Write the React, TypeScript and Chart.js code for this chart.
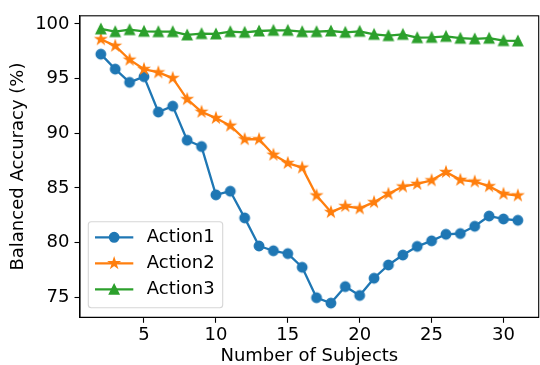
import React, { useEffect, useRef } from "react";
import { Chart, registerables } from "chart.js";

Chart.register(...registerables);

const subjects = [2, 3, 4, 5, 6, 7, 8, 9, 10, 11, 12, 13, 14, 15, 16, 17, 18, 19, 20, 21, 22, 23, 24, 25, 26, 27, 28, 29, 30, 31];
const action1 = [97.24, 95.87, 94.66, 95.18, 91.94, 92.48, 89.36, 88.78, 84.36, 84.69, 82.25, 79.68, 79.24, 78.98, 77.73, 74.94, 74.45, 75.96, 75.15, 76.73, 77.94, 78.85, 79.64, 80.15, 80.75, 80.82, 81.48, 82.42, 82.15, 82.03];
const action2 = [98.6, 98.0, 96.73, 95.87, 95.57, 95.05, 93.12, 91.96, 91.39, 90.69, 89.45, 89.45, 88.03, 87.27, 86.85, 84.3, 82.78, 83.33, 83.12, 83.69, 84.45, 85.12, 85.36, 85.69, 86.45, 85.73, 85.57, 85.15, 84.45, 84.3];
const action3 = [99.55, 99.3, 99.48, 99.33, 99.3, 99.3, 99.0, 99.12, 99.09, 99.3, 99.24, 99.36, 99.42, 99.42, 99.3, 99.3, 99.36, 99.24, 99.33, 99.05, 98.94, 99.05, 98.75, 98.78, 98.87, 98.7, 98.64, 98.7, 98.48, 98.45];
const seriesLabels = ["Action1", "Action2", "Action3"];
const seriesColors = ["#1f77b4", "#ff7f0e", "#2ca02c"];
const seriesMarkers = ["circle", "star", "triangle"];
const xTicks = [5, 10, 15, 20, 25, 30];
const yTicks = [75, 80, 85, 90, 95, 100];
const xLabel = "Number of Subjects";
const yLabel = "Balanced Accuracy (%)";

const FONT = "'DejaVu Sans', sans-serif";
const FS = 18;
const MS = 9.4;
const MEW = 1.5;
const LW = 2.3;

function drawMarker(ctx: CanvasRenderingContext2D, kind: string, x: number, y: number, color: string) {
  const r = MS / 2;
  ctx.save();
  ctx.fillStyle = color;
  ctx.strokeStyle = color;
  ctx.lineWidth = MEW;
  ctx.lineJoin = "miter";
  ctx.beginPath();
  if (kind === "circle") {
    ctx.arc(x, y, r, 0, Math.PI * 2);
  } else if (kind === "star") {
    const rs = r * 1.05;
    for (let i = 0; i < 10; i++) {
      const a = -Math.PI / 2 + (i * Math.PI) / 5;
      const rr = i % 2 === 0 ? rs : rs * 0.381966;
      const px = x + Math.cos(a) * rr;
      const py = y + Math.sin(a) * rr;
      if (i === 0) ctx.moveTo(px, py);
      else ctx.lineTo(px, py);
    }
    ctx.closePath();
  } else {
    ctx.moveTo(x, y - r);
    ctx.lineTo(x - r, y + r);
    ctx.lineTo(x + r, y + r);
    ctx.closePath();
  }
  ctx.fill();
  ctx.stroke();
  ctx.restore();
}

function markerImage(kind: string, color: string): HTMLCanvasElement {
  const c = document.createElement("canvas");
  c.width = 18;
  c.height = 18;
  const ctx = c.getContext("2d")!;
  drawMarker(ctx, kind, 9, 9, color);
  return c;
}

const framePlugin = {
  id: "frame",
  afterDatasetsDraw(chart: any) {
    const { ctx, chartArea } = chart;
    ctx.save();
    ctx.strokeStyle = "#000";
    ctx.lineWidth = 1.1;
    ctx.strokeRect(chartArea.left, chartArea.top, chartArea.right - chartArea.left, chartArea.bottom - chartArea.top);
    ctx.restore();
  },
};

const legendPlugin = {
  id: "mplLegend",
  afterDraw(chart: any) {
    const { ctx, chartArea } = chart;
    const x0 = chartArea.left + 8.3;
    const y1 = chartArea.bottom - 9.6;
    const w = 134.4;
    const h = 86;
    const y0 = y1 - h;
    ctx.save();
    ctx.beginPath();
    const rad = 3;
    ctx.moveTo(x0 + rad, y0);
    ctx.arcTo(x0 + w, y0, x0 + w, y0 + h, rad);
    ctx.arcTo(x0 + w, y0 + h, x0, y0 + h, rad);
    ctx.arcTo(x0, y0 + h, x0, y0, rad);
    ctx.arcTo(x0, y0, x0 + w, y0, rad);
    ctx.closePath();
    ctx.fillStyle = "rgba(255,255,255,0.8)";
    ctx.fill();
    ctx.strokeStyle = "rgba(204,204,204,0.8)";
    ctx.lineWidth = 1.1;
    ctx.stroke();
    chart.data.datasets.forEach((ds: any, i: number) => {
      const cy = y0 + 15.6 + i * 26;
      const lx0 = x0 + 6.7;
      const lx1 = lx0 + 38.3;
      ctx.beginPath();
      ctx.strokeStyle = seriesColors[i];
      ctx.lineWidth = LW;
      ctx.lineCap = "butt";
      ctx.moveTo(lx0, cy);
      ctx.lineTo(lx1, cy);
      ctx.stroke();
      drawMarker(ctx, seriesMarkers[i], (lx0 + lx1) / 2, cy, seriesColors[i]);
      ctx.fillStyle = "#000";
      ctx.font = `${FS}px ${FONT}`;
      ctx.textBaseline = "middle";
      ctx.textAlign = "left";
      ctx.fillText(ds.label, x0 + 58.5, cy + 0.5);
    });
    ctx.restore();
  },
};

export default function App() {
  const ref = useRef<HTMLCanvasElement | null>(null);
  useEffect(() => {
    if (!ref.current) return;
    const series = [action1, action2, action3];
    const chart = new Chart(ref.current, {
      type: "line",
      data: {
        datasets: series.map((vals, i) => ({
          label: seriesLabels[i],
          data: subjects.map((s, j) => ({ x: s, y: vals[j] })),
          borderColor: seriesColors[i],
          backgroundColor: seriesColors[i],
          borderWidth: LW,
          borderJoinStyle: "round" as const,
          pointStyle: markerImage(seriesMarkers[i], seriesColors[i]),
          pointRadius: 5,
          pointHoverRadius: 5,
          tension: 0,
          fill: false,
          order: 3 - i,
        })),
      },
      options: {
        animation: false,
        responsive: false,
        devicePixelRatio: 1,
        layout: { padding: { top: 14, left: 0, right: 0, bottom: 0 } },
        plugins: { legend: { display: false }, tooltip: { enabled: false } },
        scales: {
          x: {
            type: "linear",
            min: 0.55,
            max: 32.45,
            afterBuildTicks: (scale: any) => {
              scale.ticks = xTicks.map((v) => ({ value: v }));
            },
            afterFit: (scale: any) => {
              scale.height = 47.7;
            },
            ticks: { color: "#000", font: { family: FONT, size: FS }, padding: 2, maxRotation: 0, autoSkip: false },
            grid: { display: true, drawOnChartArea: false, drawTicks: true, tickLength: 5.5, tickWidth: 1.1, tickColor: "#000" },
            border: { display: true, color: "#000", width: 1.1 },
            title: { display: true, text: xLabel, color: "#000", font: { family: FONT, size: FS, lineHeight: 1 }, padding: { top: 0, bottom: -0.5 } },
          },
          y: {
            type: "linear",
            min: 73.15,
            max: 100.75,
            afterBuildTicks: (scale: any) => {
              scale.ticks = yTicks.map((v) => ({ value: v }));
            },
            afterFit: (scale: any) => {
              scale.width = 80;
            },
            ticks: { color: "#000", font: { family: FONT, size: FS }, padding: 5 },
            grid: { display: true, drawOnChartArea: false, drawTicks: true, tickLength: 5.5, tickWidth: 1.1, tickColor: "#000" },
            border: { display: true, color: "#000", width: 1.1 },
            title: { display: true, text: yLabel, color: "#000", font: { family: FONT, size: FS, lineHeight: 1 }, padding: { top: 9, bottom: 0 } },
          },
        },
      },
      plugins: [framePlugin, legendPlugin],
    });
    return () => chart.destroy();
  }, []);
  return (
    <div style={{ position: "fixed", left: 0, top: 0, width: 540, height: 365, overflow: "hidden", background: "#fff" }}>
      <canvas ref={ref} width={546} height={365} style={{ width: 546, height: 365, display: "block" }} />
    </div>
  );
}
